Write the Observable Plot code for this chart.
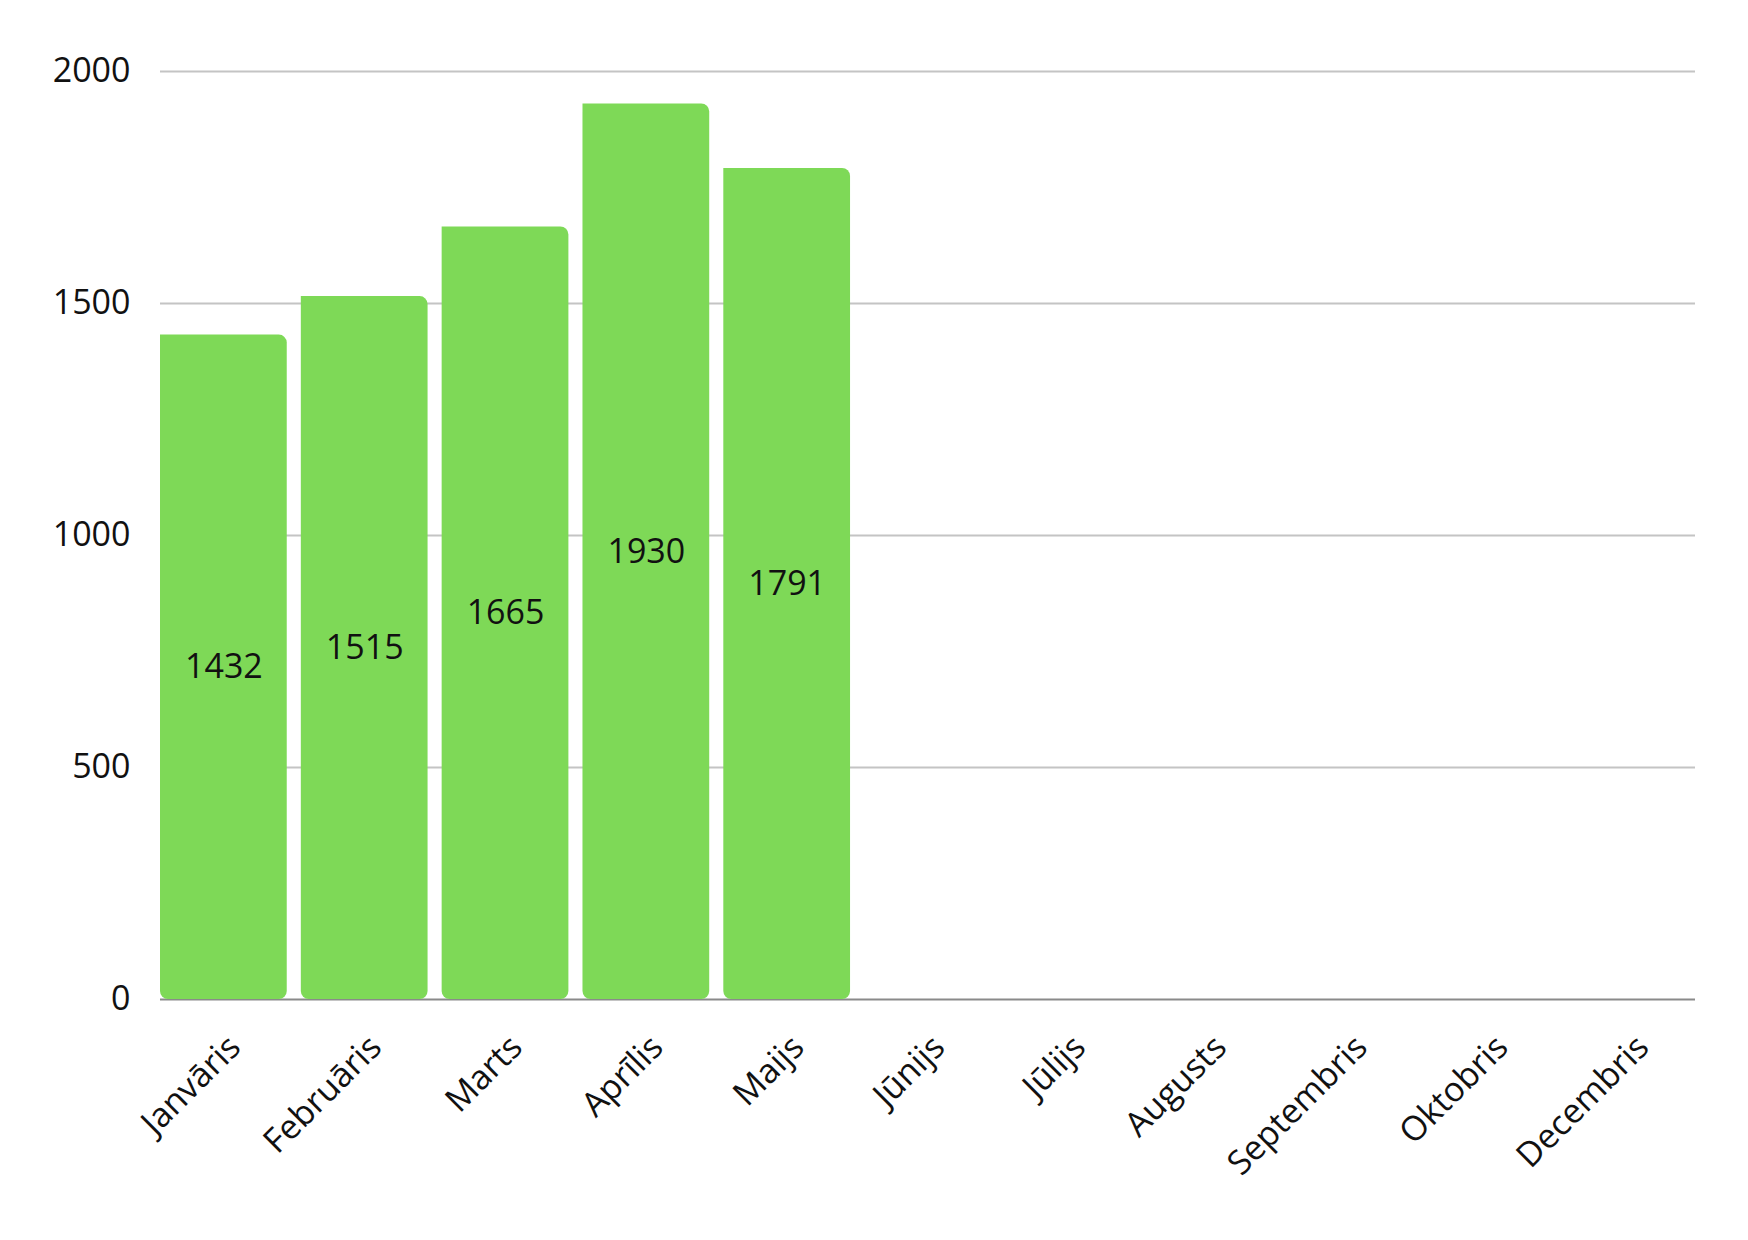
<!DOCTYPE html>
<html>
<head>
<meta charset="utf-8">
<script src="https://cdn.jsdelivr.net/npm/d3@7"></script>
<script src="https://cdn.jsdelivr.net/npm/@observablehq/plot@0.6"></script>
<style>
  html, body { margin: 0; padding: 0; background: #fff; }
  #chart { width: 1748px; height: 1240px; }
</style>
</head>
<body>
<div id="chart"></div>
<script>
const months = ["Janvāris","Februāris","Marts","Aprīlis","Maijs","Jūnijs","Jūlijs","Augusts","Septembris","Oktobris","Decembris"];
const valueMonths = ["Janvāris","Februāris","Marts","Aprīlis","Maijs"];
const values = [1432, 1515, 1665, 1930, 1791];
const yTicks = [0, 500, 1000, 1500, 2000];

const data = valueMonths.map((m, i) => ({month: m, value: values[i]}));

const chart = Plot.plot({
  width: 1748,
  height: 1240,
  marginLeft: 160,
  marginRight: 53,
  marginTop: 71,
  marginBottom: 241,
  style: {fontFamily: "'Open Sans', sans-serif", fontSize: "34px", color: "#111", background: "#fff"},
  x: {domain: months, paddingInner: 0.1, paddingOuter: 0, round: false, label: null},
  y: {domain: [0, 2000], label: null},
  marks: [
    Plot.gridY(yTicks.filter(d => d > 0), {stroke: "#c4c4c4", strokeOpacity: 1, strokeWidth: 2}),
    Plot.ruleY([0], {stroke: "#8a8a8a", strokeWidth: 2}),
    Plot.barY(data, {x: "month", y: "value", fill: "#7ED957", ry2: 8, rx2: 8}),
    Plot.text(data, {x: "month", y: d => d.value / 2, text: d => String(d.value), fill: "#111", fontSize: 34}),
    Plot.axisY({ticks: yTicks, tickSize: 0, tickPadding: 30, tickFormat: d => String(d), label: null, fontSize: 34}),
    Plot.axisX({tickSize: 0, tickRotate: -45, textAnchor: "end", lineAnchor: "middle", tickPadding: 42, dx: 11, label: null, fontSize: 34})
  ]
});
document.getElementById("chart").appendChild(chart);
</script>
</body>
</html>
